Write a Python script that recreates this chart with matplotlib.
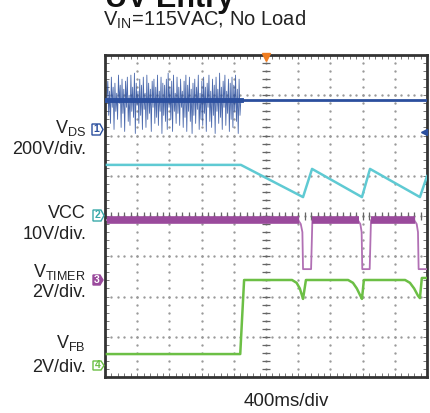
import numpy as np
import matplotlib
matplotlib.use('Agg')
import matplotlib.pyplot as plt
from matplotlib.patches import Polygon

plt.rcParams['font.family'] = ['Liberation Sans', 'DejaVu Sans']
plt.rcParams['mathtext.fontset'] = 'custom'
plt.rcParams['mathtext.rm'] = 'Liberation Sans'

W, H = 430, 413

# --- datos (unidades: divisiones de la pantalla) ---
# VDS: banda ruidosa antes del arranque, luego linea plana
vds_base = 6.88
vds_noise_start, vds_noise_end = 0.06, 4.22
vds_noise = [6.9, 7.35, 6.5, 7.1, 6.3, 7.45, 6.7, 7.2, 6.15, 7.3, 6.6, 7.05, 6.4, 7.5,
             6.8, 7.25, 6.2, 7.4, 6.55, 7.15, 6.1, 7.35, 6.7, 7.45, 6.35, 7.0, 6.25,
             7.5, 6.6, 7.2, 6.45, 7.55, 6.05, 7.3, 6.75, 7.1, 6.3, 7.4, 6.5, 7.25,
             6.15, 7.45, 6.65, 7.05, 6.2, 7.5, 6.4, 7.3, 6.55, 7.15, 6.1, 7.35, 6.7,
             7.4, 6.3, 7.2, 6.45, 7.5, 6.25, 7.1, 6.6, 7.45, 6.05, 7.3, 6.5, 7.25,
             6.35, 7.4, 6.15, 7.55, 6.7, 7.2, 6.4, 7.35, 6.1, 7.5, 6.6, 7.05, 6.3,
             7.45, 6.55, 7.2, 6.25, 7.4, 6.7, 7.1, 6.2, 7.35, 6.45, 7.5, 6.1, 7.25,
             6.6, 7.45, 6.35, 7.15, 6.05, 7.3, 6.5, 7.4, 6.3, 7.2, 6.65, 7.5, 6.15,
             7.05, 6.4, 7.35, 6.25, 7.45, 6.55, 7.2, 6.1, 7.3, 6.7, 7.5, 6.35, 7.1,
             6.2, 7.4, 6.5, 7.25, 6.05, 7.45, 6.6, 7.15, 6.3, 7.55, 6.45, 7.2, 6.15,
             7.35, 6.7, 7.5, 6.25, 7.1, 6.55, 7.4, 6.1, 7.3, 6.4, 7.45, 6.2, 7.25,
             6.6, 7.5, 6.35, 7.15, 6.05, 7.4, 6.5, 6.88]

# VCC
vcc_x = [0.06, 4.22, 6.15, 6.43, 7.98, 8.23, 9.78, 10.0]
vcc_y = [5.27, 5.27, 4.47, 5.17, 4.47, 5.17, 4.47, 4.99]

# VTIMER
tmr_x = [0.06, 6.0, 6.08, 6.13, 6.15, 6.40, 6.44, 7.85, 7.93, 7.97, 7.99, 8.22, 8.26,
         9.60, 9.68, 9.72, 9.74, 10.0]
tmr_y = [3.9, 3.9, 3.8, 3.6, 2.68, 2.68, 3.9, 3.9, 3.8, 3.6, 2.68, 2.68, 3.9,
         3.9, 3.8, 3.6, 2.68, 2.68]
tmr_level = 3.9
tmr_high = [(0.06, 6.04), (6.44, 7.89), (8.26, 9.64)]

# VFB
fb_x = [0.06, 4.20, 4.26, 4.32, 5.81, 5.95, 6.05, 6.12, 6.15, 6.24, 7.55, 7.70, 7.82,
        7.93, 7.98, 8.04, 9.32, 9.47, 9.60, 9.72, 9.78, 9.84, 10.0]
fb_y = [0.57, 0.57, 1.5, 2.41, 2.41, 2.34, 2.20, 2.02, 1.94, 2.41, 2.41, 2.34, 2.20,
        2.02, 1.94, 2.41, 2.41, 2.34, 2.20, 2.02, 1.96, 2.46, 2.46]

c_vds = '#2b4f9e'
c_vcc = '#5fcad3'
c_tmr = '#9a4a9c'
c_fb = '#6cbf45'


def px(x, y):
    return x / W, 1 - y / H


fig = plt.figure(figsize=(W / 100, H / 100), dpi=100)
ax = fig.add_axes([105 / W, 36 / H, 322 / W, 322 / H])
ax.set_xlim(0, 10)
ax.set_ylim(0, 8)

# reticula de puntos
for gx in range(1, 10):
    ax.plot(np.full(41, gx), np.arange(0, 8.01, 0.2), ls='none', marker='.',
            ms=1.4, color='#999999', zorder=1)
for gy in range(1, 8):
    ax.plot(np.arange(0, 10.01, 0.2), np.full(51, gy), ls='none', marker='.',
            ms=1.4, color='#999999', zorder=1)
# ejes centrales con marcas
ax.plot(np.full(41, 5), np.arange(0, 8.01, 0.2), ls='none', marker='_', ms=6,
        mew=0.9, color='#666666', zorder=1)
ax.plot(np.arange(0, 10.01, 0.2), np.full(51, 4), ls='none', marker='|', ms=6,
        mew=0.9, color='#666666', zorder=1)

# trazas
xn = np.linspace(vds_noise_start, vds_noise_end, len(vds_noise))
ax.plot(xn, vds_noise, color=c_vds, lw=0.6, alpha=0.85, zorder=3)
ax.plot([vds_noise_start, vds_noise_end], [vds_base, vds_base], color=c_vds, lw=3.5, zorder=3)
ax.plot([vds_noise_end, 10], [vds_base, vds_base], color=c_vds, lw=2, zorder=3)

ax.plot(vcc_x, vcc_y, color=c_vcc, lw=1.8, zorder=3)

ax.plot(tmr_x, tmr_y, color='#b170b4', lw=1.3, zorder=3)
for a, b in tmr_high:
    ax.plot([a, b], [tmr_level, tmr_level], color=c_tmr, lw=5.5,
            solid_capstyle='butt', zorder=3)

ax.plot(fb_x, fb_y, color=c_fb, lw=1.8, zorder=3)

# marcador de disparo y nivel
ax.plot([5], [7.96], marker='v', ms=6, color='#f07d20', clip_on=False, zorder=5)
ax.plot([9.9], [6.09], marker='<', ms=5, color=c_vds, clip_on=False, zorder=5)

# marco y marcas de borde
for s in ax.spines.values():
    s.set_linewidth(2)
    s.set_color('#333333')
ax.set_xticks(np.arange(0, 10.01, 1))
ax.set_xticks(np.arange(0, 10.01, 0.2), minor=True)
ax.set_yticks(np.arange(0, 8.01, 1))
ax.set_yticks(np.arange(0, 8.01, 0.2), minor=True)
ax.tick_params(which='both', direction='in', length=3, width=0.7, color='#777777',
               top=True, right=True, labelbottom=False, labelleft=False)

# textos
fig.text(*px(105, 7), 'UV Entry', fontsize=22, fontweight='bold', va='baseline', color='#111111')
fig.text(*px(103, 26), r'V$_{\rm IN}$=115VAC, No Load', fontsize=14.5, va='baseline', color='#222222')

labels = [(r'V$_{\rm DS}$', 133), ('200V/div.', 154),
          ('VCC', 218), ('10V/div.', 239),
          (r'V$_{\rm TIMER}$', 277), ('2V/div.', 297),
          (r'V$_{\rm FB}$', 348), ('2V/div.', 372)]
for t, yb in labels:
    fig.text(*px(86, yb), t, fontsize=13, ha='right', va='baseline', color='#222222')

fig.text(*px(286, 406), '400ms/div', fontsize=13.5, ha='center', va='baseline', color='#222222')

# indicadores de canal
chans = [('1', 92, 103, 124, 135, c_vds, False),
         ('2', 93, 104, 210, 221, '#3aa9a9', False),
         ('3', 93, 103, 275, 285, c_tmr, True),
         ('4', 93, 104, 361, 370, c_fb, False)]
for num, x0, x1, y0, y1, c, filled in chans:
    ym = (y0 + y1) / 2
    pts = [px(x0, y0), px(x1 - 3, y0), px(x1, ym), px(x1 - 3, y1), px(x0, y1)]
    fig.patches.append(Polygon(pts, closed=True, transform=fig.transFigure,
                               facecolor=c if filled else 'white', edgecolor=c, lw=1))
    fig.text(*px((x0 + x1 - 2) / 2, ym), num, fontsize=7.5, ha='center', va='center',
             color='white' if filled else c, fontweight='bold')

fig.savefig('out.png', dpi=100)
